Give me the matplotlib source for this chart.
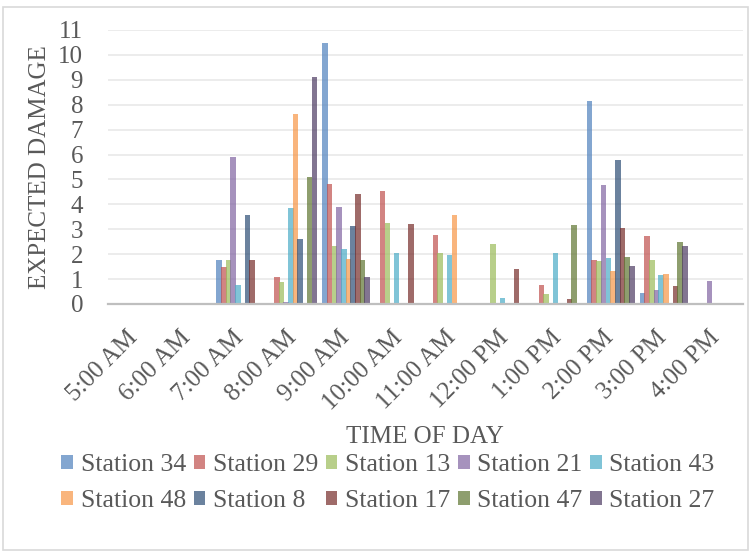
import numpy as np
import matplotlib
matplotlib.use("Agg")
import matplotlib.pyplot as plt
from matplotlib.patches import Rectangle

# ----------------------------------------------------------------------
# data
# ----------------------------------------------------------------------
times = ["5:00 AM", "6:00 AM", "7:00 AM", "8:00 AM", "9:00 AM", "10:00 AM",
         "11:00 AM", "12:00 PM", "1:00 PM", "2:00 PM", "3:00 PM", "4:00 PM"]
stations = ["Station 34", "Station 29", "Station 13", "Station 21", "Station 43",
            "Station 48", "Station 8", "Station 17", "Station 47", "Station 27"]

st34 = [0, 0, 1.78, 0,    10.49, 0,    0,    0,    0,    8.15, 0.44, 0]
st29 = [0, 0, 1.49, 1.08, 4.83,  4.53, 2.77, 0,    0.76, 1.76, 2.72, 0]
st13 = [0, 0, 1.77, 0.89, 2.32,  3.27, 2.04, 2.40, 0.40, 1.72, 1.76, 0]
st21 = [0, 0, 5.89, 0.09, 3.89,  0,    0,    0,    0,    4.77, 0.55, 0.91]
st43 = [0, 0, 0.75, 3.84, 2.20,  2.05, 1.96, 0.23, 2.04, 1.83, 1.17, 0]
st48 = [0, 0, 0,    7.64, 1.80,  0,    3.56, 0,    0,    1.32, 1.20, 0]
st8 = [0, 0, 3.56, 2.61, 3.13,  0,    0,    0,    0,    5.77, 0,    0]
st17 = [0, 0, 1.77, 0,    4.43,  3.23, 0,    1.41, 0.22, 3.05, 0.73, 0]
st47 = [0, 0, 0,    5.11, 1.76,  0,    0,    0,    3.18, 1.88, 2.49, 0]
st27 = [0, 0, 0,    9.13, 1.09,  0,    0,    0,    0,    1.51, 2.33, 0]
series = [st34, st29, st13, st21, st43, st48, st8, st17, st47, st27]

colors = ["#4F81BD", "#C0504D", "#9BBB59", "#8064A2", "#4BACC6",
          "#F79646", "#2C4D75", "#772C2A", "#5F7530", "#4D3B62"]

TXT = "#595959"
plt.rcParams["font.family"] = ["Liberation Serif", "DejaVu Serif"]

fig = plt.figure(figsize=(7.51, 5.53), dpi=100)
ax = fig.add_axes([108 / 751, 1 - 304 / 553, 635 / 751, 274 / 553])

x = np.arange(len(times))
step = 0.0888
for k, (vals, c, name) in enumerate(zip(series, colors, stations)):
    ax.bar(x + (k - 4.5) * step, vals, width=0.105, color=c, alpha=0.7,
           label=name, zorder=3, linewidth=0)

ax.set_xlim(-0.5, len(times) - 0.5)
ax.set_ylim(0, 11)
ax.set_yticks(range(0, 12))
ax.grid(axis="y", color="#EBEBEB", lw=1.3, zorder=0)
ax.set_axisbelow(True)
for s in ["left", "right", "top"]:
    ax.spines[s].set_visible(False)
ax.spines["bottom"].set_color("#BFBFBF")
ax.spines["bottom"].set_linewidth(1.6)
ax.spines["bottom"].set_zorder(4)

ax.set_xticks(x)
ax.set_xticklabels(times, rotation=45, ha="right", va="center",
                   rotation_mode="anchor")
ax.tick_params(axis="both", length=0, colors=TXT, labelsize=18)
ax.tick_params(axis="x", pad=22)
ax.tick_params(axis="y", pad=18)

ax.set_ylabel("EXPECTED DAMAGE", fontsize=18, color=TXT)
ax.yaxis.set_label_coords(-57 / 635, 0.5)
fig.text(425 / 751, 1 - 437 / 553, "TIME OF DAY", fontsize=18, color=TXT,
         ha="center", va="center")

# legend: two rows, filled row-wise like the reference
h, l = ax.get_legend_handles_labels()
order = [0, 5, 1, 6, 2, 7, 3, 8, 4, 9]
leg = fig.legend([h[i] for i in order], [l[i] for i in order], ncol=5,
                 loc="center", bbox_to_anchor=(388 / 751, 1 - 483 / 553),
                 frameon=False, fontsize=18.5, handlelength=0.45,
                 handleheight=0.45, handletextpad=0.3, columnspacing=0.3,
                 labelspacing=0.55, labelcolor=TXT)

# light chart-area border
fig.patches.append(Rectangle((3 / 751, 3 / 553), 745 / 751, 543 / 553,
                             transform=fig.transFigure, fill=False,
                             edgecolor="#D9D9D9", lw=1.2))

fig.savefig("out.png", dpi=100)
